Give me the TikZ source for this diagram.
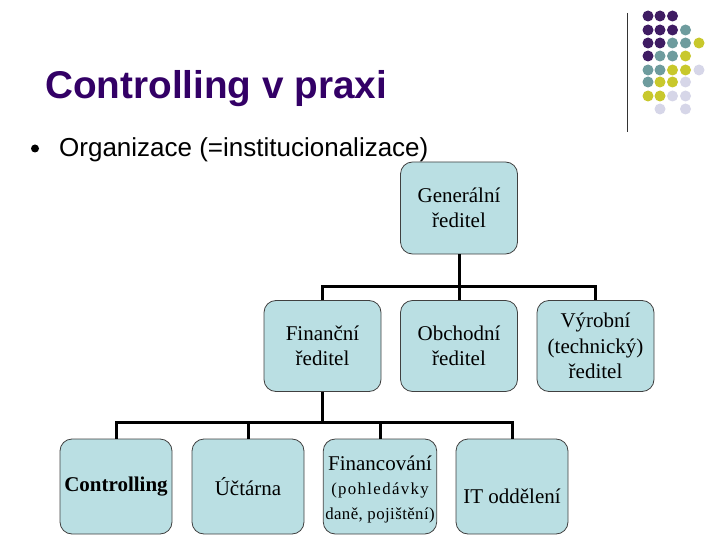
\documentclass[tikz,border=0pt]{standalone}
\usepackage{fontspec}
\setmainfont{Liberation Serif}
\newfontfamily\arialfont{Liberation Sans}
\newfontfamily\spacedserif[LetterSpace=8]{Liberation Serif}
\newfontfamily\lightspacedserif[LetterSpace=2.5]{Liberation Serif}
\definecolor{titlepurple}{HTML}{330066}
\definecolor{boxblue}{HTML}{BADFE3}
\definecolor{dotP}{HTML}{3F1C63}
\definecolor{dotT}{HTML}{6E9C9E}
\definecolor{dotY}{HTML}{C8C82C}
\definecolor{dotL}{HTML}{D6D6E8}
\begin{document}
\begin{tikzpicture}[x=1pt,y=-1pt,
  box/.style={draw=black!75, line width=0.8pt, fill=boxblue, rounded corners=12pt,
    minimum width=117pt, minimum height=92pt, align=center, inner sep=2pt,
    font=\fontsize{21}{25.5}\selectfont},
  lowbox/.style={box, minimum width=112pt, minimum height=95pt},
  conn/.style={line width=3pt, black},
  dot/.style={radius=5.5pt}]
\useasboundingbox (0,0) rectangle (720,540);
% decoration
\draw[line width=0.9pt, black!80] (627,13) -- (627,132);
\foreach \c/\x/\y in {P/648/16,P/660/16,P/672.5/16,
  P/648/30,P/660/30,P/672.5/30,T/685.5/30,
  P/648/43,P/660/43,T/672.5/43,T/685.5/43,Y/699/43,
  P/648/56,T/660/56,T/672.5/56,Y/685.5/56,
  T/648/70,T/660/70,Y/672.5/70,Y/685.5/70,L/699/70,
  T/648/82,Y/660/82,Y/672.5/82,L/685.5/82,
  Y/648/96,Y/660/96,L/672.5/96,L/685.5/96,
  L/660/109,L/685.5/109}
  \fill[dot\c] (\x,\y) circle[dot];
% title
\node[anchor=base west, inner sep=0, text=titlepurple, font=\arialfont\bfseries\fontsize{38.7}{44}\selectfont] (title) at (45,99) {Controlling v praxi};
\fill[black] (35,148.5) circle[radius=4pt];
\node[anchor=base west, inner sep=0, font=\arialfont\fontsize{26}{30}\selectfont] (bullet) at (59,157) {Organizace (=institucionalizace)};
% boxes
\node[box] (gen) at (459,208) {Generální\\ředitel};
\node[box, minimum height=91pt] (fin) at (322.5,346) {Finanční\\ředitel};
\node[box, minimum height=91pt] (obch) at (459,346) {Obchodní\\ředitel};
\node[box, minimum height=91pt] (vyr) at (595.5,346) {Výrobní\\(technický)\\ředitel};
\node[lowbox] (ctrl) at (116,486.5) {\raisebox{2pt}{\bfseries Controlling}};
\node[lowbox] (uct) at (248,486.5) {Účtárna};
\node[lowbox] (finc) at (380,486.5) {\raisebox{0pt}[21pt][0pt]{Financování}\\[-2pt]{\spacedserif\fontsize{16.8}{22}\selectfont (pohledávky}\\{\lightspacedserif\fontsize{16.8}{22}\selectfont daně, pojištění)}};
\node[lowbox] (it) at (512,486.5) {\raisebox{-12pt}[14pt][4pt]{IT oddělení}};
% connectors
\draw[conn] (gen.south) -- (obch.north);
\draw[conn] (fin.north) -- ++(0,-13.5) -| (vyr.north);
\draw[conn] (fin.south) -- ++(0,31.5);
\draw[conn] (ctrl.north) -- ++(0,-16) -| (it.north);
\draw[conn] (uct.north) -- ++(0,-16);
\draw[conn] (finc.north) -- ++(0,-16);
\end{tikzpicture}
\end{document}
